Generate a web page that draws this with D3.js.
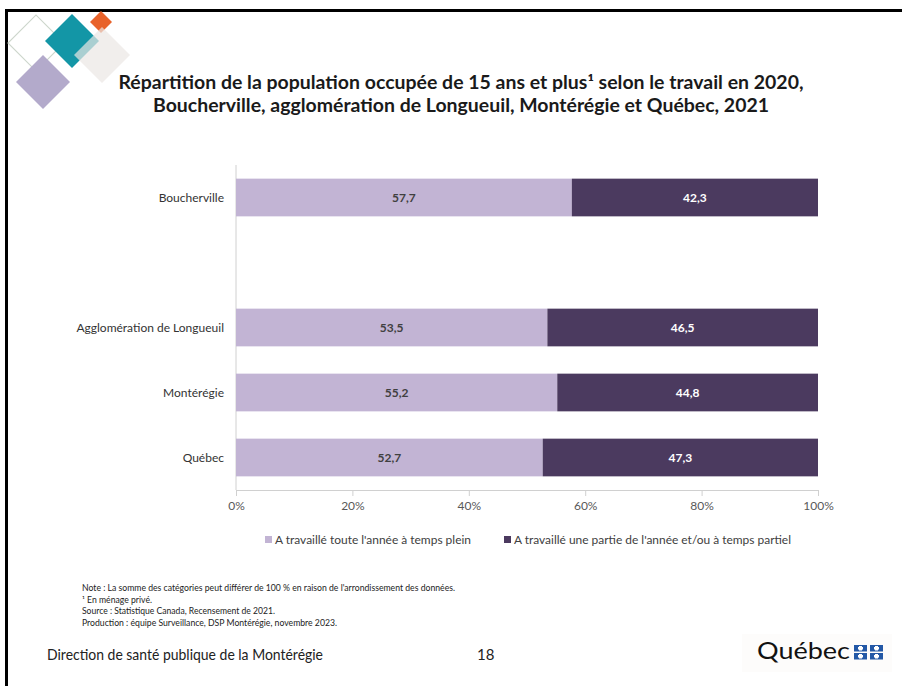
<!DOCTYPE html>
<html>
<head>
<meta charset="utf-8">
<script src="https://d3js.org/d3.v7.min.js"></script>
<style>
  body { margin: 0; background: #ffffff; }
  text { font-family: Lato, "Open Sans", sans-serif; }
</style>
</head>
<body>
<div id="chart-area"></div>
<script>
//============================DATA============================
var categories = ["Boucherville", "", "Agglomération de Longueuil", "Montérégie", "Québec"];
var fullYear = [57.7, null, 53.5, 55.2, 52.7];
var partYear = [42.3, null, 46.5, 44.8, 47.3];
var seriesNames = ["A travaillé toute l'année à temps plein",
                   "A travaillé une partie de l'année et/ou à temps partiel"];
var xTicks = [0, 20, 40, 60, 80, 100];
var titleLines = ["Répartition de la population occupée de 15 ans et plus¹ selon le travail en 2020,",
                  "Boucherville, agglomération de Longueuil, Montérégie et Québec, 2021"];
var notes = ["Note : La somme des catégories peut différer de 100 % en raison de l'arrondissement des données.",
             "¹ En ménage privé.",
             "Source : Statistique Canada, Recensement de 2021.",
             "Production : équipe Surveillance, DSP Montérégie, novembre 2023."];

//============================GLOBALS============================
var W = 902, H = 686;
var margins = { left: 236, right: 84, top: 165, bottom: 196 };
var width = W - margins.left - margins.right;
var height = H - margins.top - margins.bottom;
var colors = ["#c2b4d4", "#4b3a5f"];

var svg = d3.select("#chart-area")
    .append("svg")
    .attr("width", W)
    .attr("height", H);

// squeeze a text element to a given width (source font is narrower than ours)
function fit(sel, w) {
    sel.attr("textLength", w).attr("lengthAdjust", "spacingAndGlyphs");
}

// slide frame (top and left edges only are visible)
svg.append("rect").attr("x", 5).attr("y", 9).attr("width", W).attr("height", 3).attr("fill", "#000");
svg.append("rect").attr("x", 5).attr("y", 9).attr("width", 3).attr("height", H).attr("fill", "#000");

// decorative diamonds, top-left
var diamonds = [
    { cx: 36, cy: 43, r: 28, fill: "none", stroke: "#cdd6cc", op: 1 },
    { cx: 43, cy: 82, r: 27, fill: "#b3aacb", stroke: "none", op: 1 },
    { cx: 72, cy: 41, r: 27, fill: "#1396a6", stroke: "none", op: 1 },
    { cx: 101, cy: 22, r: 11, fill: "#e8622a", stroke: "none", op: 1 },
    { cx: 102, cy: 55, r: 28, fill: "#ebe7e4", stroke: "none", op: 0.7 }
];
svg.selectAll(".diamond")
    .data(diamonds)
    .enter()
    .append("rect")
    .attr("class", "diamond")
    .attr("x", function(d){ return -d.r / Math.SQRT2; })
    .attr("y", function(d){ return -d.r / Math.SQRT2; })
    .attr("width", function(d){ return d.r * Math.SQRT2; })
    .attr("height", function(d){ return d.r * Math.SQRT2; })
    .attr("transform", function(d){ return "translate(" + d.cx + "," + d.cy + ") rotate(45)"; })
    .attr("fill", function(d){ return d.fill; })
    .attr("stroke", function(d){ return d.stroke; })
    .attr("stroke-width", 1.2)
    .attr("opacity", function(d){ return d.op; });

// title
var titleWidths = [685, 616];
svg.selectAll(".title")
    .data(titleLines)
    .enter()
    .append("text")
    .attr("class", "title")
    .attr("x", 461)
    .attr("y", function(d, i){ return 89 + i * 23; })
    .attr("text-anchor", "middle")
    .attr("font-size", "18px")
    .attr("font-weight", "bold")
    .attr("fill", "#1a1a1a")
    .text(function(d){ return d; })
    .each(function(d, i){ fit(d3.select(this), titleWidths[i]); });

//============================CHART============================
var g = svg.append("g")
    .attr("transform", "translate(" + margins.left + ", " + margins.top + ")");

var x = d3.scaleLinear()
    .domain([0, 100])
    .range([0, width]);

var y = d3.scaleBand()
    .domain(categories)
    .range([0, height])
    .paddingInner(0.42)
    .paddingOuter(0.21);

var xAxisCall = d3.axisBottom(x)
    .tickValues(xTicks)
    .tickSize(6)
    .tickPadding(5)
    .tickFormat(function(d){ return d + "%"; });

var xAxis = g.append("g")
    .attr("class", "x axis")
    .attr("transform", "translate(0, " + height + ")")
    .call(xAxisCall);
xAxis.select(".domain").attr("stroke", "#d0d0d0");
xAxis.selectAll(".tick line").attr("stroke", "#d0d0d0");
xAxis.selectAll(".tick text")
    .attr("font-size", "12px")
    .attr("font-family", "Lato, sans-serif")
    .attr("fill", "#595959");

// vertical category axis line
g.append("line")
    .attr("x1", 0).attr("x2", 0)
    .attr("y1", 0).attr("y2", height)
    .attr("stroke", "#d0d0d0");

var rows = categories.map(function(c, i){
    return { cat: c, full: fullYear[i], part: partYear[i] };
}).filter(function(d){ return d.full !== null; });

var fmt = function(v){ return d3.format(".1f")(v).replace(".", ","); };

// stacked segments
var segs = [];
rows.forEach(function(d){
    segs.push({ cat: d.cat, x0: 0, x1: d.full, v: d.full, s: 0 });
    segs.push({ cat: d.cat, x0: d.full, x1: d.full + d.part, v: d.part, s: 1 });
});

g.selectAll("rect.bar")
    .data(segs)
    .enter()
    .append("rect")
    .attr("class", "bar")
    .attr("x", function(d){ return x(d.x0); })
    .attr("y", function(d){ return y(d.cat); })
    .attr("width", function(d){ return x(d.x1) - x(d.x0); })
    .attr("height", y.bandwidth())
    .attr("fill", function(d){ return colors[d.s]; });

g.selectAll("text.val")
    .data(segs)
    .enter()
    .append("text")
    .attr("class", "val")
    .attr("x", function(d){ return x((d.x0 + d.x1) / 2); })
    .attr("y", function(d){ return y(d.cat) + y.bandwidth() / 2 + 4; })
    .attr("text-anchor", "middle")
    .attr("font-size", "12px")
    .attr("font-weight", "bold")
    .attr("fill", function(d){ return d.s === 0 ? "#404040" : "#ffffff"; })
    .text(function(d){ return fmt(d.v); });

g.selectAll("text.cat")
    .data(rows)
    .enter()
    .append("text")
    .attr("class", "cat")
    .attr("x", -12)
    .attr("y", function(d){ return y(d.cat) + y.bandwidth() / 2 + 4; })
    .attr("text-anchor", "end")
    .attr("font-size", "12px")
    .attr("fill", "#333")
    .text(function(d){ return d.cat; });

//============================LEGEND============================
var legX = [265, 504], legW = [196, 277];
var leg = svg.selectAll(".legend")
    .data(seriesNames)
    .enter()
    .append("g")
    .attr("class", "legend")
    .attr("transform", function(d, i){ return "translate(" + legX[i] + ", 536)"; });
leg.append("rect")
    .attr("width", 7).attr("height", 7)
    .attr("fill", function(d, i){ return colors[i]; });
leg.append("text")
    .attr("x", 10)
    .attr("y", 8)
    .attr("font-size", "12px")
    .attr("fill", "#404040")
    .text(function(d){ return d; })
    .each(function(d, i){ fit(d3.select(this), legW[i]); });

//============================NOTES / FOOTER============================
var noteW = [373, 70, 193, 255];
svg.selectAll(".note")
    .data(notes)
    .enter()
    .append("text")
    .attr("class", "note")
    .attr("x", 82)
    .attr("y", function(d, i){ return 591 + i * 11.7; })
    .attr("font-size", "8.5px")
    .attr("fill", "#222")
    .text(function(d){ return d; })
    .each(function(d, i){ fit(d3.select(this), noteW[i]); });

svg.append("text")
    .attr("x", 47).attr("y", 660)
    .attr("font-size", "15px")
    .attr("fill", "#222")
    .text("Direction de santé publique de la Montérégie")
    .call(fit, 276);

svg.append("text")
    .attr("x", 477).attr("y", 660)
    .attr("font-size", "15px")
    .attr("fill", "#222")
    .text("18");

// Québec wordmark
var logo = svg.append("g").attr("transform", "translate(742, 634)");
logo.append("rect")
    .attr("width", 150).attr("height", 38)
    .attr("fill", "#fdfcfb");
logo.append("text")
    .attr("x", 15).attr("y", 25)
    .attr("font-family", "'DejaVu Serif', 'Liberation Serif', serif")
    .attr("font-size", "23px")
    .attr("fill", "#111")
    .text("Québec")
    .call(fit, 93);
var flag = logo.selectAll(".flag")
    .data([[112, 11], [128, 11], [112, 19], [128, 19]])
    .enter()
    .append("g")
    .attr("class", "flag")
    .attr("transform", function(d){ return "translate(" + d[0] + "," + d[1] + ")"; });
flag.append("rect").attr("width", 13).attr("height", 6.5).attr("fill", "#2358a6");
flag.append("rect").attr("x", 5).attr("y", 1).attr("width", 3).attr("height", 4.5).attr("fill", "#fff");
flag.append("rect").attr("x", 4).attr("y", 2).attr("width", 5).attr("height", 2.5).attr("fill", "#fff");
</script>
</body>
</html>
